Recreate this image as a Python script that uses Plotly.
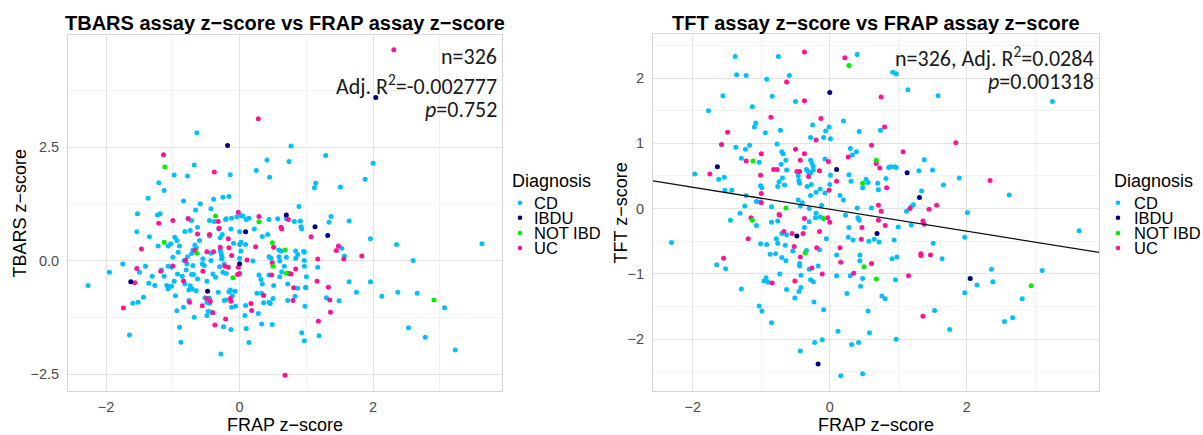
import plotly.graph_objects as go

W, H = 1203, 435

# ---------------- data (FRAP z-score, other assay z-score) ----------------
TBARS_CD = [
    (-0.64, 2.82), (0.77, 2.53), (1.29, 2.32), (0.41, 2.22), (0.74, 2.19), (2.0, 2.15), (-0.68, 2.11),
    (0.25, 1.99), (-0.14, 1.90), (-0.98, 1.89), (-0.78, 1.87), (0.45, 1.84), (1.88, 1.80), (-1.21, 1.72),
    (1.14, 1.71), (1.12, 1.61), (1.51, 1.63), (-1.13, 1.55), (-1.37, 1.38), (-0.25, 1.40), (-0.16, 1.42),
    (-0.84, 1.32), (-0.39, 1.36), (-0.59, 1.26), (0.89, 1.20), (-0.66, 1.12), (-0.43, 1.15), (-1.53, 1.04),
    (1.37, 0.98), (-1.23, 1.01), (-1.19, 1.04), (0.02, 1.0), (0.05, 0.99), (-0.20, 0.93), (-0.77, 0.94),
    (-0.72, 0.89), (-0.45, 0.89), (-0.63, 0.74), (-1.54, 0.64), (-1.35, 0.53), (-0.82, 0.65), (-0.74, 0.67),
    (-0.97, 0.52), (-0.94, 0.45), (-1.22, 0.33), (-1.07, 0.33), (-0.90, 0.33), (-1.03, 0.38), (-1.75, -0.07),
    (-1.95, -0.25), (-2.27, -0.54), (-1.50, -0.25), (-1.41, -0.12), (-1.31, -0.34), (-1.36, -0.49),
    (-1.27, -0.54), (-1.17, -0.20), (-1.07, -0.12), (-1.02, -0.14), (-1.13, -0.34), (-1.09, -0.54),
    (-1.07, -0.62), (-0.93, -0.29), (-0.98, -0.45), (-1.02, -0.56), (-1.44, -0.80), (-1.52, -0.91),
    (-1.60, -0.93), (-1.65, -1.63), (-0.96, -0.77), (-0.94, -1.10), (-0.84, -1.02), (-0.76, -0.87),
    (-0.68, -1.24), (-0.90, -1.46), (-0.88, -1.79), (-0.82, -0.51), (-0.76, -0.64), (-0.71, -0.62),
    (-0.80, -0.20), (-0.72, -0.30), (-0.79, -0.07), (-0.83, 0.01), (-0.72, 0.16), (-0.70, 0.24),
    (-0.56, -0.06), (-0.63, -0.40), (-0.49, -0.45), (-0.45, -0.82), (-0.49, -0.91), (-0.45, -0.93),
    (-0.47, -1.11), (-0.24, -1.45), (-0.13, -1.51), (-0.28, -2.05), (-0.32, -0.69), (-0.21, -0.86),
    (-0.06, -1.00), (-0.14, -0.64), (-0.07, -0.67), (-0.20, -0.28), (-0.25, -0.25), (-0.23, -0.07),
    (-0.27, 0.04), (-0.29, 0.24), (-0.28, 0.18), (-0.27, 0.12), (-0.26, 0.07), (-0.43, 0.17), (-0.43, 0.01),
    (-0.09, 0.39), (0.02, 0.41), (0.02, 0.22), (0.0, 0.06), (0.0, 0.64), (0.20, 0.0), (0.09, 0.36),
    (-0.26, 0.58), (-0.13, 0.70), (0.22, 0.70), (0.42, 0.58), (0.34, 0.54), (0.10, 0.91), (0.14, 0.94),
    (0.44, 0.91), (0.57, 0.93), (0.70, 0.93), (0.82, 0.87), (0.91, 0.88), (0.92, 0.75), (0.62, 0.22),
    (0.44, 0.09), (0.47, 0.06), (0.59, 0.09), (0.70, 0.08), (0.84, 0.22), (0.96, 0.21), (0.97, 0.01),
    (0.97, -0.12), (0.84, 0.06), (0.60, 0.0), (0.67, -0.12), (0.63, -0.24), (0.29, -0.31), (0.32, -0.41),
    (0.44, -0.31), (0.60, -0.35), (0.34, -0.51), (0.51, -0.54), (0.72, -0.51), (0.87, -0.60), (0.99, -0.58),
    (0.26, -0.71), (0.33, -0.71), (0.83, -0.78), (0.72, -0.87), (0.50, -0.83), (0.44, -0.91), (0.46, -0.94),
    (0.36, -0.92), (0.09, -0.98), (0.28, -1.16), (0.08, -1.20), (0.33, -1.39), (0.49, -1.40), (0.10, -1.49),
    (0.14, -1.80), (0.98, -1.0), (1.34, 0.85), (1.64, 0.88), (1.96, 0.49), (2.35, 0.36), (3.63, 0.38),
    (1.53, 0.28), (1.57, 0.11), (1.17, -0.14), (1.64, -0.46), (1.96, -0.46), (2.60, 0.01), (1.75, -0.69),
    (2.13, -0.78), (2.37, -0.69), (2.66, -0.71), (3.07, -1.03), (1.30, -0.81), (1.49, -0.88), (0.93, -1.58),
    (0.97, -1.76), (1.19, -1.65), (2.53, -1.47), (2.78, -1.68), (3.23, -1.96), (-0.92, 0.19), (-1.0, 0.08),
    (-0.86, -0.34), (-0.78, 0.09), (-0.67, 0.35), (-0.65, 0.29), (-0.70, -0.10), (-0.69, -0.30),
    (-0.74, -0.55), (-0.65, -0.66), (-0.53, -0.10), (-0.52, -0.81), (-0.49, -1.20), (-0.42, -1.13),
    (-0.45, 0.55), (-0.29, 0.51), (-0.31, 0.70), (-0.38, 0.87), (-0.21, 0.91), (-0.12, 0.94), (-0.04, 0.97),
    (0.0, 0.36), (-0.40, -0.29), (-0.36, -0.36), (-0.16, -0.68), (-0.11, -0.77), (-0.23, -0.87),
    (-0.12, -1.02), (-0.30, -0.13), (-0.55, 0.05), (-0.60, 0.45), (0.93, 0.71), (0.97, 0.19), (0.87, 0.14),
    (1.0, -0.35), (0.99, -0.59), (0.59, 0.24),
]
TBARS_UC = [
    (2.31, 4.65), (0.28, 3.13), (-1.14, 2.34), (-0.38, 1.96), (-0.02, 1.07), (0.29, 0.98), (-0.32, 0.87),
    (-1.0, 0.89), (-1.21, 0.83), (-0.63, 0.59), (-1.47, 0.26), (-1.57, -0.48), (-1.18, -0.23), (-1.74, -1.04),
    (-0.75, -0.91), (-0.81, 0.01), (-0.67, 0.23), (-0.49, -0.83), (-0.40, -1.14), (-0.37, -1.41),
    (-0.21, -1.28), (-0.14, -0.83), (-0.13, -0.89), (0.0, -0.28), (-0.22, -0.12), (-0.29, 0.30),
    (-0.39, 0.20), (-0.49, 0.20), (-0.16, 0.29), (0.11, 0.02), (0.24, 0.31), (-0.31, 0.72), (-0.17, 0.49),
    (0.73, 0.91), (0.62, 0.74), (0.63, 0.70), (0.51, 0.30), (0.74, -0.28), (0.77, -0.29), (0.48, -0.31),
    (0.81, -0.59), (0.36, -0.76), (0.80, -0.87), (0.17, -0.94), (0.18, -1.09), (0.68, -2.52), (1.16, -0.45),
    (1.07, 0.53), (1.45, 0.23), (1.48, 0.33), (1.56, 0.04), (1.83, 0.11), (1.17, 0.04), (1.33, -0.58),
    (1.35, -0.86), (1.36, -1.13), (1.18, -1.33), (-1.54, -0.17), (-1.0, -0.11), (-0.84, -0.44),
    (-0.55, -0.23), (-0.45, 0.58), (-0.77, 0.93), (-0.12, 0.12), (-0.17, -0.14), (-0.03, -0.30),
    (-0.02, -0.14), (-0.44, -0.89), (-0.56, -0.99), (0.84, -0.18), (0.49, -0.04),
]
TBARS_NOTIBD = [
    (-1.12, 2.07), (-0.36, 0.99), (-1.13, 0.41), (-0.64, 0.17), (-0.10, -0.37), (0.29, 0.86), (0.49, 0.40),
    (0.68, 0.24), (0.50, -0.12), (0.70, -0.27), (2.91, -0.86),
]
TBARS_IBDU = [
    (2.04, 3.60), (-0.18, 2.54), (0.70, 1.01), (-1.63, -0.46), (-0.48, -0.67), (0.0, -0.06), (0.09, 0.64),
    (1.13, 0.75), (1.32, 0.56),
]

TFT_CD = [
    (-1.38, 2.33), (-0.75, 2.33), (-1.36, 2.05), (-1.22, 2.04), (-0.92, 1.98), (-0.59, 2.04), (-1.56, 1.73),
    (-0.84, 1.72), (-0.50, 1.64), (-1.77, 1.50), (-1.13, 1.56), (-1.08, 1.31), (-1.10, 1.25), (-0.94, 1.16),
    (-0.72, 1.20), (-0.25, 1.28), (-0.01, 1.25), (-0.06, 1.19), (-0.28, 1.09), (-0.09, 1.09), (0.01, 1.07),
    (-1.37, 0.94), (-1.23, 0.91), (-1.17, 0.97), (-0.77, 0.99), (-0.70, 0.87), (-0.68, 0.84), (-1.29, 0.77),
    (-1.03, 0.71), (-0.64, 0.74), (-0.28, 0.74), (-0.26, 0.69), (-0.24, 0.65), (-0.07, 0.76), (-0.71, 0.68),
    (-1.97, 0.53), (-1.62, 0.45), (-1.54, 0.48), (-0.63, 0.59), (-0.46, 0.50), (-0.34, 0.60), (-0.31, 0.56),
    (-0.28, 0.55), (-0.24, 0.59), (0.01, 0.51), (-0.69, 0.47), (-0.74, 0.41), (-0.76, 0.34), (-0.66, 0.36),
    (-0.45, 0.43), (-0.44, 0.39), (-0.33, 0.34), (-0.27, 0.37), (-0.14, 0.30), (0.0, 0.37), (-1.01, 0.35),
    (-0.99, 0.32), (-1.53, 0.28), (-1.43, 0.28), (-0.28, 0.20), (-0.20, 0.25), (-0.07, 0.24), (-1.22, 0.20),
    (-1.07, 0.11), (-1.01, 0.10), (-1.24, 0.04), (-0.85, 0.03), (-0.46, 0.13), (-0.40, 0.09), (-0.43, 0.04),
    (-0.30, 0.0), (-0.12, 0.05), (-0.20, -0.07), (0.40, 2.36), (0.92, 2.09), (0.97, 2.06), (1.14, 1.82),
    (1.58, 1.73), (3.25, 1.64), (0.20, 1.34), (0.43, 1.18), (0.74, 1.20), (0.30, 0.92), (0.39, 0.87),
    (0.33, 0.82), (1.38, 0.75), (0.86, 0.63), (0.89, 0.64), (0.95, 0.64), (0.97, 0.63), (1.30, 0.58),
    (1.50, 0.59), (0.28, 0.52), (0.31, 0.42), (0.53, 0.45), (0.56, 0.40), (0.48, 0.32), (0.70, 0.39),
    (0.82, 0.46), (0.71, 0.29), (1.89, 0.47), (1.66, 0.36), (1.34, 0.27), (2.62, 0.21), (1.22, 0.06),
    (1.19, 0.03), (1.12, -0.04), (2.01, -0.06), (0.40, 0.01), (0.61, 0.01), (0.15, 0.20), (0.20, 0.13),
    (-2.31, -0.52), (-1.45, -0.18), (-1.31, -0.07), (-1.07, -0.26), (-1.01, -0.54), (-0.92, -0.55),
    (-0.85, -0.21), (-0.76, -0.19), (-0.70, -0.38), (-0.63, -0.40), (-0.37, -0.29), (-0.30, -0.20),
    (-0.21, -0.14), (-0.14, -0.13), (-0.05, -0.46), (-0.78, -0.46), (-0.76, -0.53), (-0.65, -0.56),
    (-0.54, -0.65), (-0.87, -0.70), (-0.79, -0.69), (-0.70, -0.75), (-0.64, -0.80), (-0.34, -0.64),
    (-0.30, -0.93), (-0.15, -0.63), (-0.44, -0.84), (-0.44, -0.88), (-0.17, -0.88), (-0.42, -1.02),
    (-0.28, -1.09), (-0.24, -1.12), (-0.73, -1.0), (-0.93, -1.06), (-0.96, -1.11), (-0.90, -1.13),
    (-0.42, -1.21), (-0.45, -1.27), (-0.63, -1.24), (-0.51, -1.37), (-1.29, -1.23), (-0.23, -1.43),
    (-0.09, -1.55), (-1.03, -1.49), (-0.99, -1.57), (-0.85, -1.75), (-0.11, -2.01), (-0.22, -2.05),
    (-0.43, -2.18), (0.16, -2.56), (0.12, -1.88), (-1.65, -0.86), (-1.52, -0.92), (0.23, -0.10),
    (0.41, -0.14), (0.43, -0.18), (1.0, -0.28), (1.19, -0.25), (0.28, -0.29), (0.27, -0.44), (0.34, -0.48),
    (0.57, -0.50), (0.65, -0.47), (0.72, -0.51), (0.94, -0.48), (1.97, -0.44), (1.51, -0.53), (0.10, -0.71),
    (0.44, -0.71), (0.44, -0.80), (0.91, -0.77), (0.98, -0.74), (1.64, -0.77), (2.36, -0.93), (2.38, -1.12),
    (0.30, -1.03), (0.10, -1.03), (0.48, -1.07), (0.96, -1.09), (2.15, -1.17), (1.97, -1.29), (2.81, -1.38),
    (0.45, -1.19), (0.25, -1.30), (0.76, -1.34), (0.81, -1.38), (0.56, -1.57), (1.53, -1.56), (2.55, -1.73),
    (2.67, -1.67), (1.75, -1.85), (0.58, -1.90), (0.97, -2.0), (0.32, -2.08), (0.42, -2.05), (0.48, -2.53),
    (3.64, -0.34), (3.10, -0.95),
]
TFT_UC = [
    (-0.37, 2.40), (-0.63, 1.94), (-0.37, 1.65), (-0.86, 1.40), (-0.13, 1.38), (-1.49, 1.17), (-0.20, 1.05),
    (-1.58, 0.98), (-1.0, 0.84), (-0.50, 0.91), (-0.37, 0.84), (-1.22, 0.73), (-0.43, 0.74), (-0.02, 0.72),
    (-1.75, 0.53), (-0.82, 0.60), (-0.77, 0.60), (-0.48, 0.57), (-0.44, 0.57), (-0.31, 0.49), (-0.15, 0.58),
    (-1.01, 0.51), (-0.01, 0.28), (-1.0, 0.23), (-1.0, 0.09), (-0.74, -0.09), (0.10, 0.42), (0.22, 2.31),
    (0.75, 1.71), (0.80, 1.25), (1.84, 1.01), (0.61, 0.97), (0.27, 0.79), (1.07, 0.87), (0.68, 0.69),
    (0.73, 0.62), (0.83, 0.32), (2.34, 0.43), (1.17, 0.0), (1.56, 0.05), (1.45, -0.01), (0.71, 0.05),
    (0.75, -0.04), (-1.15, -0.14), (-1.19, -0.46), (-0.73, -0.10), (-0.67, -0.35), (-0.55, -0.38),
    (-0.39, -0.38), (-0.37, -0.15), (-0.03, -0.14), (0.0, -0.21), (-0.15, -0.35), (-0.52, -0.58),
    (-0.43, -0.74), (-0.26, -0.91), (-0.19, -0.60), (-0.11, -1.0), (-0.84, -1.14), (-0.51, -1.11),
    (-1.55, -0.76), (0.71, -0.18), (0.81, -0.26), (1.36, -0.19), (1.38, -0.24), (0.47, -0.29), (0.46, -0.47),
    (0.15, -0.60), (0.16, -0.82), (0.61, -0.84), (1.33, -0.69), (1.33, -0.72), (1.47, -0.71), (0.35, -0.99),
    (1.15, -1.03), (1.36, -1.65),
]
TFT_NOTIBD = [
    (-1.12, 0.73), (-0.64, 0.01), (0.28, 2.19), (0.68, 0.74), (0.48, 0.39), (-1.13, -0.18), (-0.09, -0.15),
    (-0.36, -0.68), (0.50, -0.89), (0.68, -1.08), (2.94, -1.18),
]
TFT_IBDU = [
    (0.0, 1.78), (-1.64, 0.64), (0.10, 0.60), (1.13, 0.55), (1.31, 0.17), (-0.48, -0.42), (0.69, -0.38),
    (2.05, -1.07), (-0.17, -2.38),
]

GROUPS = ["CD", "IBDU", "NOT IBD", "UC"]
COLORS = {"CD": "#00BFFF", "IBDU": "#000080", "NOT IBD": "#00EE00", "UC": "#FF1493"}
DRAW_ORDER = ["CD", "UC", "NOT IBD", "IBDU"]

LEFT = {"CD": TBARS_CD, "UC": TBARS_UC, "NOT IBD": TBARS_NOTIBD, "IBDU": TBARS_IBDU}
RIGHT = {"CD": TFT_CD, "UC": TFT_UC, "NOT IBD": TFT_NOTIBD, "IBDU": TFT_IBDU}

TITLES = ["TBARS assay z\u2212score vs FRAP assay z\u2212score", "TFT assay z\u2212score vs FRAP assay z\u2212score"]
X_TITLE = "FRAP z\u2212score"
Y_TITLES = ["TBARS z\u2212score", "TFT z\u2212score"]
STATS_LEFT = ["n=326", "Adj. R<sup>2</sup>=-0.002777", "<i>p</i>=0.752"]
STATS_RIGHT = ["n=326, Adj. R<sup>2</sup>=0.0284", "<i>p</i>=0.001318"]
FIT_INTERCEPT = -0.01
FIT_SLOPE = -0.168

X_RANGE_L = [-2.57, 3.93]
Y_RANGE_L = [-2.86, 4.97]
X_RANGE_R = [-2.58, 3.93]
Y_RANGE_R = [-2.79, 2.67]

# ---------------- helpers (pixel -> paper) ----------------
def fx(px):
    return px / W

def fy(py):
    return 1 - py / H

SANS = "Liberation Sans, Arial, sans-serif"
TICKFONT = dict(family=SANS, size=14.5, color="#4D4D4D")
TITLEFONT = dict(family=SANS, size=18, color="#000000")
GRID = "#E4E4E4"
MINOR = "#F2F2F2"
BORDER = "#D6D6D6"

fig = go.Figure()

for data, xa, ya in [(LEFT, "x", "y"), (RIGHT, "x2", "y2")]:
    for g in DRAW_ORDER:
        pts = data[g]
        fig.add_trace(go.Scatter(
            x=[p[0] for p in pts], y=[p[1] for p in pts], mode="markers", name=g,
            marker=dict(size=5, color=COLORS[g], line=dict(width=0)),
            xaxis=xa, yaxis=ya, showlegend=False, hoverinfo="x+y+name",
        ))

# regression line on right panel
fig.add_trace(go.Scatter(
    x=X_RANGE_R, y=[FIT_INTERCEPT + FIT_SLOPE * v for v in X_RANGE_R], mode="lines",
    line=dict(color="#111111", width=1.3), xaxis="x2", yaxis="y2", showlegend=False, hoverinfo="skip",
))

def xaxis(domain, rng, anchor):
    return dict(domain=domain, range=rng, anchor=anchor, tick0=0, dtick=2,
                showgrid=True, gridcolor=GRID, gridwidth=1,
                minor=dict(dtick=1, showgrid=True, gridcolor=MINOR, gridwidth=1),
                zeroline=False, showline=True, mirror=True, linecolor=BORDER, linewidth=1,
                ticks="", tickfont=TICKFONT, ticklabelstandoff=3,
                title=dict(text=X_TITLE, font=TITLEFONT, standoff=7))

def yaxis(domain, rng, anchor, dtick, minor, fmt):
    return dict(domain=domain, range=rng, anchor=anchor, tick0=0, dtick=dtick, tickformat=fmt,
                showgrid=True, gridcolor=GRID, gridwidth=1,
                minor=dict(dtick=minor, showgrid=True, gridcolor=MINOR, gridwidth=1),
                zeroline=False, showline=True, mirror=True, linecolor=BORDER, linewidth=1,
                ticks="", tickfont=TICKFONT, ticklabelstandoff=5)

annotations = []
# panel titles
for text, cx in [(TITLES[0], 285), (TITLES[1], 876)]:
    annotations.append(dict(text="<b>" + text + "</b>", x=fx(cx), y=fy(23), xref="paper", yref="paper",
                             xanchor="center", yanchor="middle", showarrow=False,
                             font=dict(family=SANS, size=20, color="#000000")))
# y-axis titles
for text, cx in [(Y_TITLES[0], 20), (Y_TITLES[1], 621)]:
    annotations.append(dict(text=text, x=fx(cx), y=fy(218), xref="paper", yref="paper", textangle=-90,
                            xanchor="center", yanchor="middle", showarrow=False, font=TITLEFONT))
# stats text
STATFONT = dict(family="Carlito, Open Sans, sans-serif", size=22, color="#1A1A1A")
for text, py in zip(STATS_LEFT, [58, 87, 112]):
    annotations.append(dict(text=text, x=fx(499), y=fy(py), xref="paper", yref="paper",
                            xanchor="right", yanchor="middle", showarrow=False, font=STATFONT))
for text, py in zip(STATS_RIGHT, [58, 83]):
    annotations.append(dict(text=text, x=fx(1096), y=fy(py), xref="paper", yref="paper",
                            xanchor="right", yanchor="middle", showarrow=False, font=STATFONT))

# legends (one per panel)
shapes = []
LEGFONT = dict(family=SANS, size=16.5, color="#000000")
ITEM_GAP = 15.4
for title_x, dot_x, text_x in [(510, 520, 533), (1112, 1118, 1133)]:
    annotations.append(dict(text="Diagnosis", x=fx(title_x), y=fy(185), xref="paper", yref="paper",
                            xanchor="left", yanchor="middle", showarrow=False,
                            font=dict(family=SANS, size=18, color="#000000")))
    for i, g in enumerate(GROUPS):
        cy = 207 + ITEM_GAP * i
        annotations.append(dict(text=g, x=fx(text_x), y=fy(cy), xref="paper", yref="paper",
                                xanchor="left", yanchor="middle", showarrow=False, font=LEGFONT,
                                borderpad=0, height=ITEM_GAP - 0.4, valign="middle"))
        r = 2.3
        shapes.append(dict(type="circle", xref="paper", yref="paper",
                           x0=fx(dot_x - r), x1=fx(dot_x + r), y0=fy(cy + r), y1=fy(cy - r),
                           fillcolor=COLORS[g], line=dict(width=0)))

fig.update_layout(
    width=W, height=H, margin=dict(l=0, r=0, t=0, b=0),
    paper_bgcolor="white", plot_bgcolor="white",
    xaxis=xaxis([fx(68), fx(502)], X_RANGE_L, "y"),
    yaxis=yaxis([fy(399), fy(36)], Y_RANGE_L, "x", 2.5, 1.25, ".1f"),
    xaxis2=xaxis([fx(653), fx(1099)], X_RANGE_R, "y2"),
    yaxis2=yaxis([fy(399), fy(35)], Y_RANGE_R, "x2", 1, 0.5, "d"),
    annotations=annotations, shapes=shapes, showlegend=False,
)

fig.write_html("out.html")
